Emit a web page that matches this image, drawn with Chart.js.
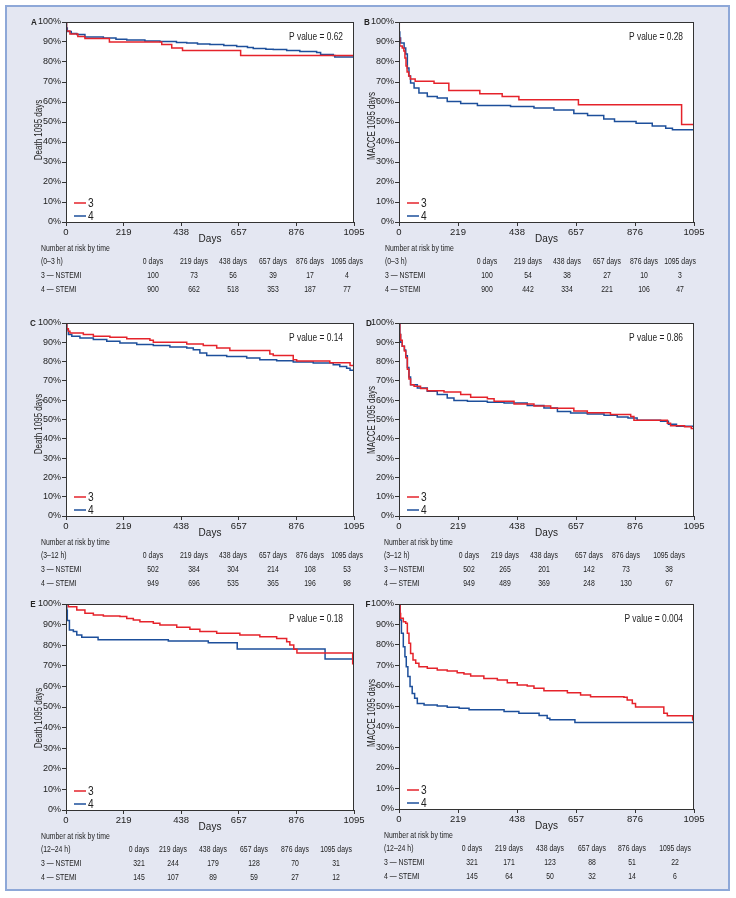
<!DOCTYPE html>
<html>
<head>
<meta charset="utf-8">
<script src="https://cdn.jsdelivr.net/npm/chart.js@4.4.1/dist/chart.umd.min.js"></script>
<style>
  body { margin: 0; width: 736px; height: 898px; position: relative; overflow: hidden; background: #fff;
         font-family: 'Liberation Sans', Arial, sans-serif; color: #222; }
  #frame { position: absolute; left: 5px; top: 5px; width: 725px; height: 886px; box-sizing: border-box;
           border: 2px solid #8ea8d8; background: #e4e7f2; }
  canvas { position: absolute; }
  .t { position: absolute; white-space: nowrap; font-size: 8.6px; line-height: 10px;
       transform-origin: 0 50%; transform: translateY(-50%) scaleX(0.8); }
  .c { transform-origin: 50% 50%; transform: translate(-50%, -50%) scaleX(0.8); }
  .lt { position: absolute; font-weight: bold; font-size: 9px; transform: translate(-50%, -50%) scaleX(0.9); }
</style>
</head>
<body>
<div id="frame"></div>
<script>
// x axis ticks and risk table columns
const dayTicks = [0, 219, 438, 657, 876, 1095];
const riskCols = ['0 days', '219 days', '438 days', '657 days', '876 days', '1095 days'];
const groupLabels = ['3', '4'];
const groupNames = ['3 \u2014 NSTEMI', '4 \u2014 STEMI'];
const strata = ['(0\u20133 h)', '(3\u201312 h)', '(12\u201324 h)'];
const pValues = ['0.62', '0.28', '0.14', '0.86', '0.18', '0.004'];
const yTitles = ['Death 1095 days', 'MACCE 1095 days'];

// Kaplan-Meier steps: [day, % free of event]
const deathA3 = [[0,100],[2,95.5],[15,94],[45,92.8],[72,91.7],[165,90],[364,88.7],[402,87],[443,85.7],[664,83.2],[1095,83.2]];
const deathA4 = [[0,100],[2,97],[5,95.3],[20,94.2],[41,93.7],[72,92.5],[142,92],[190,91.4],[231,91],[300,90.5],[357,90.3],[420,89.8],[459,89.5],[500,89],[547,88.7],[600,88.2],[649,87.8],[690,87.2],[712,86.7],[760,86.4],[788,86.2],[839,85.7],[889,85.3],[953,84.8],[968,83.7],[1016,83.3],[1022,82.5],[1095,82.5]];
const macceB3 = [[0,100],[1,92],[3,88],[12,87],[18,85.5],[22,82],[26,78],[30,75],[36,73],[42,71.5],[60,70.4],[130,69.4],[185,65.7],[300,64.1],[383,62.7],[445,61.1],[666,58.6],[1049,48.8],[1095,48.8]];
const macceB4 = [[0,100],[1,95],[3,92],[6,89.5],[19,87],[25,84],[31,77],[37,73],[43,69.5],[56,67],[74,64.5],[105,62.8],[142,62],[179,60.3],[229,59.2],[291,58.3],[414,57.7],[501,57],[575,56],[649,54.3],[700,53.2],[760,51.5],[800,50.2],[880,49.4],[940,48],[990,46.9],[1015,46.1],[1095,46]];
const deathC3 = [[0,100],[3,97],[9,95.7],[15,94.8],[66,94],[104,93.1],[167,92.6],[231,91.9],[319,91],[332,90],[459,89.1],[522,88.3],[573,87],[623,85.7],[775,83.9],[788,83.1],[864,81],[877,80.3],[1003,79.4],[1080,78],[1095,78]];
const deathC4 = [[0,100],[3,96.5],[9,94],[22,93.1],[53,92.2],[104,91.4],[155,90.5],[205,89.6],[269,88.8],[332,88.3],[395,87.6],[459,87],[484,86.2],[509,84.5],[535,83.2],[611,82.7],[687,81.9],[737,81],[801,80.5],[864,79.8],[940,79.3],[1016,78.4],[1041,77.5],[1067,76.5],[1080,75.5],[1095,75.5]];
const macceD3 = [[0,100],[3,94],[6,91],[12,88],[20,85.5],[25,82],[31,76],[37,71],[43,68],[56,67.2],[80,66],[105,64.9],[167,64.2],[229,62.9],[266,61.5],[328,60.8],[353,59.4],[427,58],[501,57],[563,55.8],[649,54.4],[699,53.5],[785,52.6],[860,51.5],[872,49.6],[996,48],[1008,46.8],[1060,46.2],[1085,45.3],[1095,45.3]];
const macceD4 = [[0,100],[3,94],[6,90],[12,88],[20,86],[25,83],[31,77],[37,72],[43,68],[68,66.3],[105,64.6],[142,62.9],[179,61.1],[204,59.8],[254,59.4],[328,59],[390,58.5],[476,57.3],[538,56],[588,54.2],[637,53.4],[699,52.8],[761,52.2],[810,51.3],[850,50.8],[884,49.6],[971,49.1],[1000,47.5],[1030,46.5],[1095,46]];
const deathE3 = [[0,100],[9,98.7],[41,97.1],[72,95.5],[104,94.7],[142,94.2],[205,93.9],[231,93],[256,92.2],[281,91.4],[332,90.6],[357,89.8],[421,88.7],[471,87.7],[509,86.6],[573,85.8],[661,85],[737,84.1],[801,83.3],[839,81.7],[851,80.1],[866,78],[878,76.2],[1090,71],[1095,71]];
const deathE4 = [[0,100],[3,97],[5,92],[13,87.4],[28,86.6],[41,85],[60,83.8],[122,82.7],[389,82],[541,81.2],[651,78.2],[985,73.3],[1095,73.3]];
const macceF3 = [[0,100],[4,95.4],[6,93],[16,91.4],[25,90.6],[31,85.7],[37,80.8],[43,75.9],[52,72.7],[62,71.1],[74,69.4],[105,68.6],[142,67.8],[179,67.3],[216,66.5],[241,65.9],[266,64.9],[315,63.7],[365,62.9],[402,61.6],[439,60.5],[476,60],[501,58.9],[538,57.7],[625,56.7],[674,55.6],[711,54.8],[835,54.5],[847,53.2],[866,51.5],[878,49.8],[983,46.7],[996,45.5],[1090,43.5],[1095,43.5]];
const macceF4 = [[0,100],[4,92.2],[9,85.7],[16,79.2],[22,74.3],[27,69.4],[33,64.6],[41,59.7],[49,56.4],[58,54],[68,51.5],[93,50.7],[142,50.2],[179,49.6],[223,49.2],[260,48.4],[390,47.6],[445,46.7],[520,45.6],[550,44.3],[560,43.5],[653,42.2],[1095,42.2]];

// number at risk
const riskA3 = [100, 73, 56, 39, 17, 4];
const riskA4 = [900, 662, 518, 353, 187, 77];
const riskB3 = [100, 54, 38, 27, 10, 3];
const riskB4 = [900, 442, 334, 221, 106, 47];
const riskC3 = [502, 384, 304, 214, 108, 53];
const riskC4 = [949, 696, 535, 365, 196, 98];
const riskD3 = [502, 265, 201, 142, 73, 38];
const riskD4 = [949, 489, 369, 248, 130, 67];
const riskE3 = [321, 244, 179, 128, 70, 31];
const riskE4 = [145, 107, 89, 59, 27, 12];
const riskF3 = [321, 171, 123, 88, 51, 22];
const riskF4 = [145, 64, 50, 32, 14, 6];

const curves = [[deathA3, deathA4], [macceB3, macceB4], [deathC3, deathC4], [macceD3, macceD4], [deathE3, deathE4], [macceF3, macceF4]];
const risks = [[riskA3, riskA4], [riskB3, riskB4], [riskC3, riskC4], [riskD3, riskD4], [riskE3, riskE4], [riskF3, riskF4]];

const RED = '#e5232b', BLUE = '#1d4f9b', AX = '#333';
const FONT = "'Liberation Sans', Arial, sans-serif";
Chart.defaults.font.family = FONT;
Chart.defaults.color = '#222';

// page layout (pixels)
const panels = [
  { letter: 'A', lx: 33.5, plot: [66, 22, 354, 222], cv: [28, 366], tx: 39, ty: 130, tableX: 41, cols: [153, 194, 233, 273, 310, 347] },
  { letter: 'B', lx: 366.5, plot: [399, 22, 694, 222], cv: [366, 712], tx: 372.5, ty: 126, tableX: 385, cols: [487, 528, 567, 607, 644, 680] },
  { letter: 'C', lx: 32.5, plot: [66, 323, 354, 516], cv: [28, 366], tx: 39, ty: 424, tableX: 41, cols: [153, 194, 233, 273, 310, 347] },
  { letter: 'D', lx: 369, plot: [399, 323, 694, 516], cv: [366, 712], tx: 372.5, ty: 420, tableX: 384, cols: [469, 505, 544, 589, 626, 669] },
  { letter: 'E', lx: 32.5, plot: [66, 604, 354, 810], cv: [28, 366], tx: 39, ty: 718, tableX: 41, cols: [139, 173, 213, 254, 295, 336] },
  { letter: 'F', lx: 367.5, plot: [399, 604, 694, 809], cv: [366, 712], tx: 372.5, ty: 713, tableX: 384, cols: [472, 509, 550, 592, 632, 675] }
];

function addText(str, x, y, cls) {
  const d = document.createElement('div');
  d.className = cls;
  d.textContent = str;
  d.style.left = x + 'px';
  d.style.top = y + 'px';
  document.body.appendChild(d);
}

// narrow text on canvas (the figure uses a condensed face)
function narrowText(ctx, str, x, y, align, size, sx) {
  ctx.save();
  ctx.translate(x, y);
  ctx.scale(sx, 1);
  ctx.font = size + 'px ' + FONT;
  ctx.textAlign = align;
  ctx.textBaseline = 'middle';
  ctx.fillStyle = '#222';
  ctx.fillText(str, 0, 0);
  ctx.restore();
}

// white plot area, box frame, legend, P value and y title
const kmPlugin = {
  id: 'km',
  beforeDraw(chart) {
    const a = chart.chartArea, ctx = chart.ctx;
    ctx.save();
    ctx.fillStyle = '#fff';
    ctx.fillRect(a.left, a.top, a.right - a.left, a.bottom - a.top);
    ctx.restore();
  },
  afterDraw(chart) {
    const a = chart.chartArea, ctx = chart.ctx, o = chart.options.plugins.km;
    ctx.save();
    ctx.strokeStyle = AX;
    ctx.lineWidth = 1;
    ctx.strokeRect(a.left + 0.5, a.top + 0.5, a.right - a.left - 1, a.bottom - a.top);
    chart.data.datasets.forEach((ds, i) => {
      const y = a.bottom - 19 + i * 13;
      ctx.strokeStyle = ds.borderColor;
      ctx.lineWidth = 1.5;
      ctx.beginPath();
      ctx.moveTo(a.left + 8, y);
      ctx.lineTo(a.left + 20, y);
      ctx.stroke();
      narrowText(ctx, ds.label, a.left + 22, y + 0.5, 'left', 12, 0.85);
    });
    narrowText(ctx, 'P value = ' + o.p, a.right - 11, a.top + 15.5, 'right', 10.5, 0.8);
    ctx.translate(o.tx, o.ty);
    ctx.rotate(-Math.PI / 2);
    narrowText(ctx, o.title, 0, 0, 'center', 10, 0.8);
    ctx.restore();
  }
};

panels.forEach((P, i) => {
  const [pl, pt, pr, pb] = P.plot;
  const top = pt - 12, bottom = pb + 23;
  const canvas = document.createElement('canvas');
  canvas.width = P.cv[1] - P.cv[0];
  canvas.height = bottom - top;
  canvas.style.left = P.cv[0] + 'px';
  canvas.style.top = top + 'px';
  document.body.appendChild(canvas);

  new Chart(canvas, {
    type: 'line',
    data: {
      datasets: curves[i].map((c, g) => ({
        label: groupLabels[g],
        data: c.map(p => ({ x: p[0], y: p[1] })),
        borderColor: g === 0 ? RED : BLUE,
        borderWidth: 1.5,
        pointRadius: 0,
        stepped: 'before',
        fill: false
      }))
    },
    options: {
      responsive: false,
      animation: false,
      layout: { padding: { left: 0, top: pt - top, right: P.cv[1] - pr, bottom: 0 } },
      plugins: {
        legend: { display: false },
        tooltip: { enabled: false },
        km: { p: pValues[i], title: yTitles[i % 2], tx: P.tx - P.cv[0], ty: P.ty - top }
      },
      scales: {
        x: {
          type: 'linear', min: 0, max: 1095,
          afterBuildTicks: s => { s.ticks = dayTicks.map(v => ({ value: v })); },
          afterFit: s => { s.height = bottom - pb; },
          grid: { drawOnChartArea: false, tickLength: 4, color: AX },
          border: { color: AX },
          ticks: { padding: 1, maxRotation: 0, autoSkip: false, font: { size: 9.5 }, callback: v => String(v) },
          title: { display: true, text: 'Days', padding: 0, font: { size: 10 } }
        },
        y: {
          min: 0, max: 100,
          afterFit: s => { s.width = pl - P.cv[0]; },
          grid: { drawOnChartArea: false, tickLength: 4, color: AX },
          border: { color: AX },
          ticks: { stepSize: 10, padding: 1, font: { size: 9 }, callback: v => v + '%' }
        }
      }
    },
    plugins: [kmPlugin]
  });

  addText(P.letter, P.lx, pt, 'lt');
  const r = Math.floor(i / 2);
  addText('Number at risk by time', P.tableX, pb + 26, 't');
  addText(strata[r], P.tableX, pb + 39, 't');
  riskCols.forEach((c, k) => addText(c, P.cols[k], pb + 39, 't c'));
  groupNames.forEach((name, g) => {
    addText(name, P.tableX, pb + 53 + g * 14, 't');
    risks[i][g].forEach((v, k) => addText(String(v), P.cols[k], pb + 53 + g * 14, 't c'));
  });
});
</script>
</body>
</html>
